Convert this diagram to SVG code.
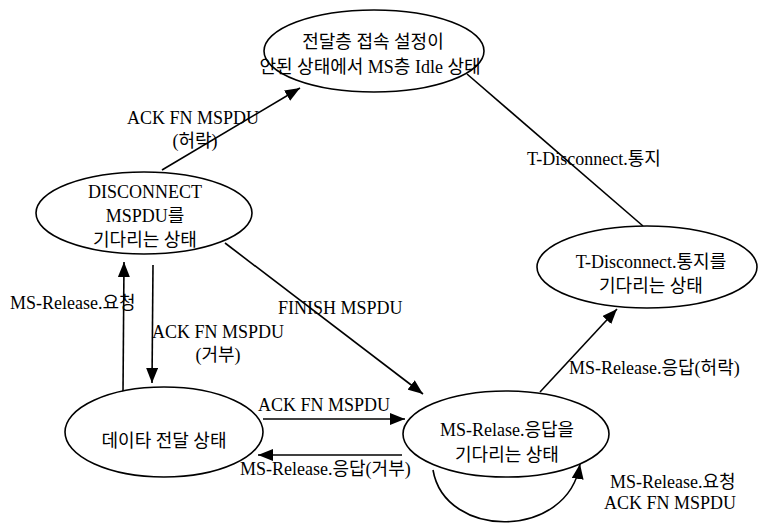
<svg xmlns="http://www.w3.org/2000/svg" width="759" height="526" viewBox="0 0 759 526">
<style>
.n{fill:#fff;stroke:#000;stroke-width:1.6}
.t{font-family:"Liberation Serif","Noto Sans CJK KR",serif;font-size:18px;fill:#000}
.m{text-anchor:middle}
.c{fill:none;stroke:#000;stroke-width:1.6}
</style>
<defs>
<marker id="ah" markerUnits="userSpaceOnUse" markerWidth="16" markerHeight="12" refX="15" refY="6" orient="auto">
<path d="M0,0 L15,6 L0,12 Z" fill="#000"/>
</marker>
</defs>
<rect width="759" height="526" fill="#fff"/>
<g id="connectors">
<line class="c" x1="162" y1="170" x2="300" y2="88" marker-end="url(#ah)"/>
<line class="c" x1="467" y1="74" x2="643" y2="226"/>
<line class="c" x1="123" y1="392" x2="124" y2="262" marker-end="url(#ah)"/>
<line class="c" x1="153" y1="265" x2="152" y2="383" marker-end="url(#ah)"/>
<line class="c" x1="225" y1="243" x2="423" y2="394" marker-end="url(#ah)"/>
<line class="c" x1="263" y1="419" x2="405" y2="419" marker-end="url(#ah)"/>
<line class="c" x1="402" y1="455" x2="258" y2="455" marker-end="url(#ah)"/>
<line class="c" x1="540" y1="392" x2="617" y2="309" marker-end="url(#ah)"/>
<path class="c" d="M433,470 C445,540 568,540 580,464" marker-end="url(#ah)"/>
<text class="t m" x="193" y="124">ACK FN MSPDU</text>
<text class="t m" x="195" y="147">(허락)</text>
<text class="t" x="527" y="165">T-Disconnect.통지</text>
<text class="t" x="10" y="309">MS-Release.요청</text>
<text class="t" x="152" y="338">ACK FN MSPDU</text>
<text class="t m" x="218" y="361">(거부)</text>
<text class="t" x="278" y="314">FINISH MSPDU</text>
<text class="t" x="258" y="411">ACK FN MSPDU</text>
<text class="t" x="240" y="475">MS-Release.응답(거부)</text>
<text class="t" x="569" y="374">MS-Release.응답(허락)</text>
<text class="t" x="610" y="488">MS-Release.요청</text>
<text class="t" x="604" y="509">ACK FN MSPDU</text>
</g>
<g id="idle">
<ellipse class="n" cx="374" cy="51" rx="110" ry="41"/>
<text class="t m" x="373" y="48">전달층 접속 설정이</text>
<text class="t m" x="370" y="73">안된 상태에서 MS층 Idle 상태</text>
</g>
<g id="wait-disconnect">
<ellipse class="n" cx="144" cy="213" rx="108" ry="41"/>
<text class="t m" x="145" y="198">DISCONNECT</text>
<text class="t m" x="145" y="222">MSPDU를</text>
<text class="t m" x="145" y="246">기다리는 상태</text>
</g>
<g id="data-transfer">
<ellipse class="n" cx="164" cy="432" rx="99" ry="45"/>
<text class="t m" x="164" y="447">데이타 전달 상태</text>
</g>
<g id="wait-release">
<ellipse class="n" cx="506" cy="434" rx="103" ry="43"/>
<text class="t m" x="507" y="436">MS-Relase.응답을</text>
<text class="t m" x="507" y="461">기다리는 상태</text>
</g>
<g id="wait-tdisconnect">
<ellipse class="n" cx="647" cy="267" rx="110" ry="41"/>
<text class="t m" x="651" y="268">T-Disconnect.통지를</text>
<text class="t m" x="651" y="292">기다리는 상태</text>
</g>
</svg>
